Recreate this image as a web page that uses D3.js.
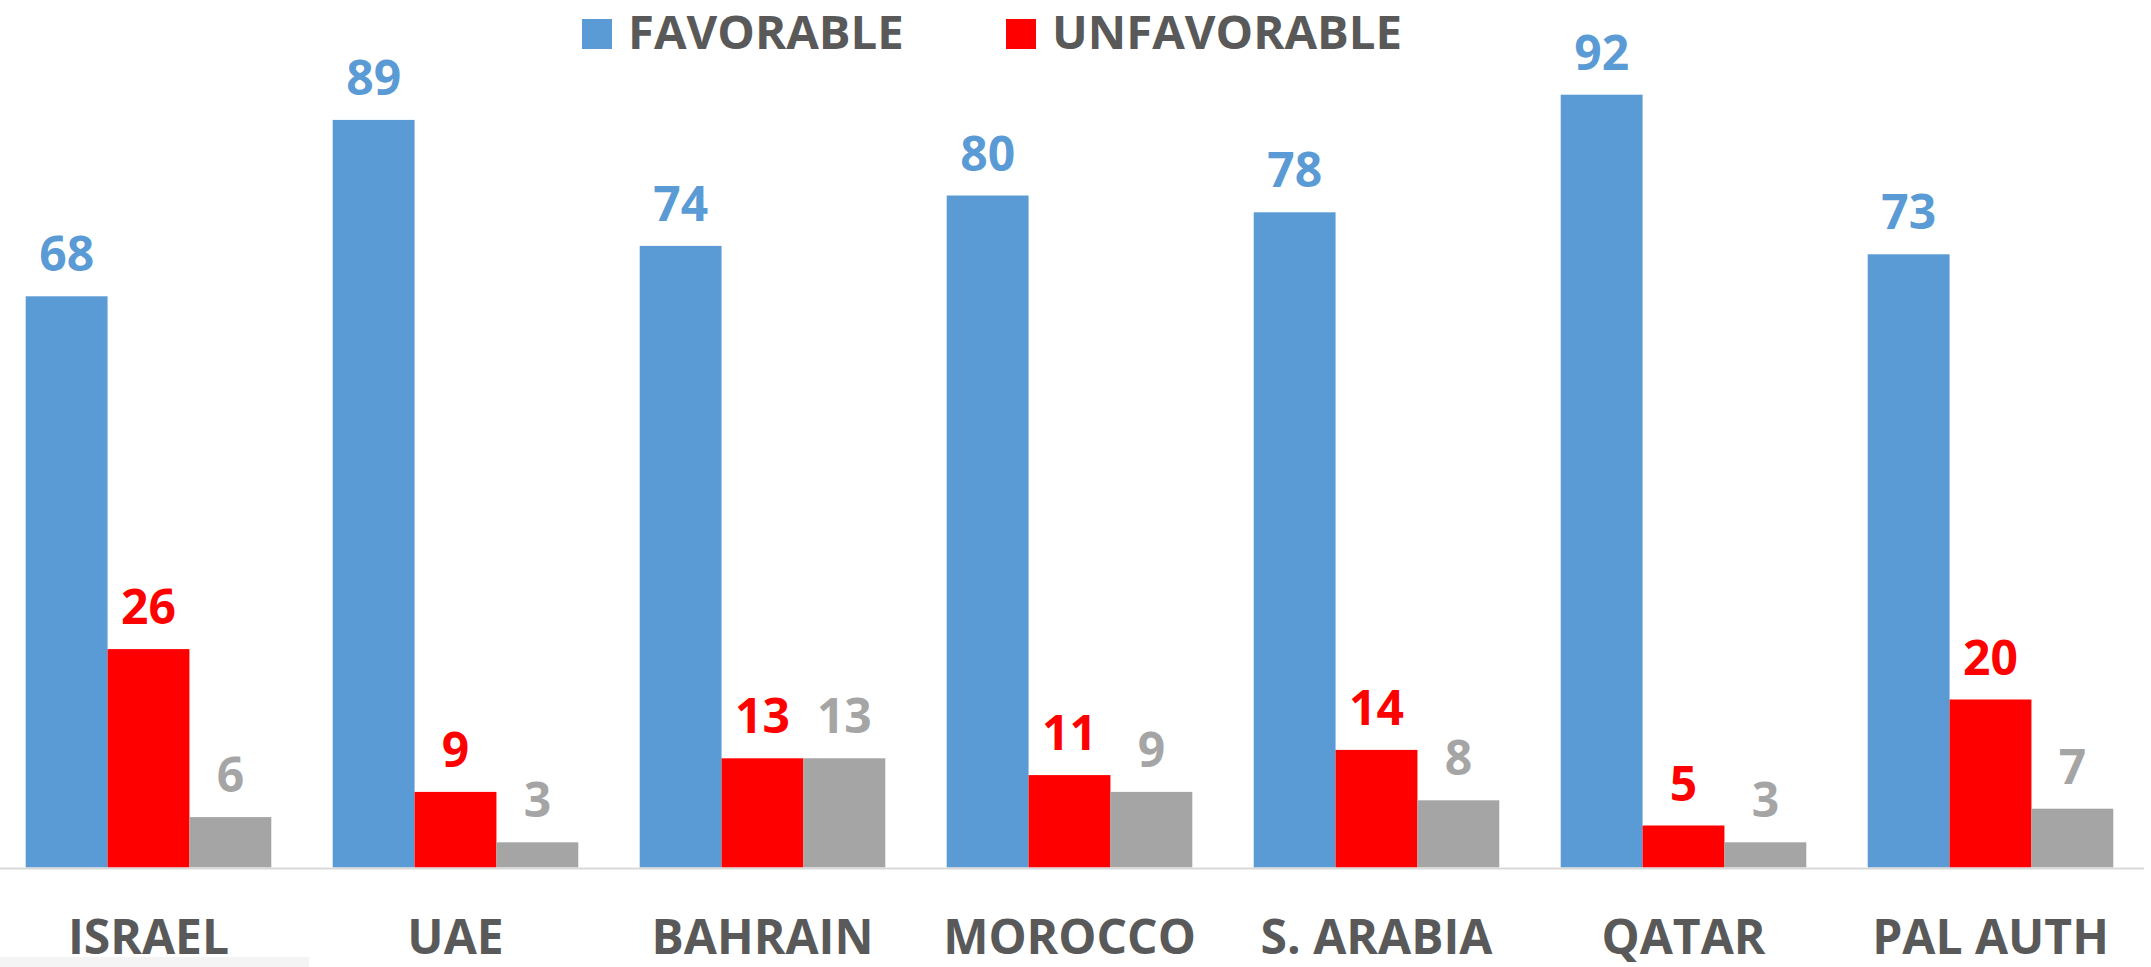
<!DOCTYPE html>
<html>
<head>
<meta charset="utf-8">
<script src="https://cdn.jsdelivr.net/npm/d3@7"></script>
<style>
  body { margin: 0; background: #fff; }
  svg { display: block; font-family: "Open Sans", sans-serif; font-weight: 700; }
</style>
</head>
<body>
<svg width="2151" height="967"></svg>
<script>
const categories = ["ISRAEL", "UAE", "BAHRAIN", "MOROCCO", "S. ARABIA", "QATAR", "PAL AUTH"];
const favorable = [68, 89, 74, 80, 78, 92, 73];
const unfavorable = [26, 9, 13, 11, 14, 5, 20];
const dontKnow = [6, 3, 13, 9, 8, 3, 7];
const seriesNames = ["FAVORABLE", "UNFAVORABLE", "DK"];
const seriesColors = ["#5b9bd5", "#ff0000", "#a5a5a5"];
const legendNames = ["FAVORABLE", "UNFAVORABLE"];

const svg = d3.select("svg");
const width = +svg.attr("width");
const height = +svg.attr("height");

const seriesValues = [favorable, unfavorable, dontKnow];
const data = categories.map((c, i) => ({
  cat: c,
  values: seriesValues.map((vals, s) => ({ key: seriesNames[s], value: vals[i], color: seriesColors[s] }))
}));

const xScale = d3.scaleBand()
  .domain(categories)
  .range([-5, 2144])
  .paddingInner(0.2)
  .paddingOuter(0.1);

// bars fill 80% of each band with no gap between them
const xInner = d3.scaleBand()
  .domain(seriesNames)
  .range([0, xScale.bandwidth()]);

const yScale = d3.scaleLinear()
  .domain([0, 100])
  .range([867.5, 27.5]);

const groups = svg.selectAll("g.cat")
  .data(data)
  .enter()
  .append("g")
  .attr("class", "cat")
  .attr("transform", (d) => `translate(${xScale(d.cat)},0)`);

groups.selectAll("rect")
  .data((d) => d.values)
  .enter()
  .append("rect")
  .attr("x", (d) => xInner(d.key))
  .attr("y", (d) => yScale(d.value))
  .attr("width", xInner.bandwidth())
  .attr("height", (d) => yScale(0) - yScale(d.value))
  .attr("fill", (d) => d.color);

groups.selectAll("text")
  .data((d) => d.values)
  .enter()
  .append("text")
  .attr("x", (d) => xInner(d.key) + xInner.bandwidth() / 2)
  .attr("y", (d) => yScale(d.value) - 25)
  .attr("text-anchor", "middle")
  .attr("font-size", 48)
  .attr("fill", (d) => d.color)
  .text((d) => d.value);

// axis baseline
svg.append("line")
  .attr("x1", 0)
  .attr("x2", 2144)
  .attr("y1", yScale(0) + 1)
  .attr("y2", yScale(0) + 1)
  .attr("stroke", "#d9d9d9")
  .attr("stroke-width", 2);

// category labels
const xAxis = d3.axisBottom(xScale).tickSize(0).tickPadding(0);
const xAxisG = svg.append("g").call(xAxis);
xAxisG.select(".domain").remove();
xAxisG.selectAll("text")
  .attr("y", 954)
  .attr("dy", null)
  .attr("font-family", "Open Sans, sans-serif")
  .attr("font-weight", 700)
  .attr("font-size", 48)
  .attr("fill", "#595959");

// legend
const legendX = [582, 1006];
const legend = svg.selectAll("g.legend")
  .data(legendNames)
  .enter()
  .append("g")
  .attr("class", "legend")
  .attr("transform", (d, i) => `translate(${legendX[i]},19)`);

legend.append("rect")
  .attr("width", 30)
  .attr("height", 30)
  .attr("fill", (d, i) => seriesColors[i]);

legend.append("text")
  .attr("x", 46)
  .attr("y", 29.5)
  .attr("font-size", 47.3)
  .attr("fill", "#595959")
  .text((d) => d);

// faint strip at bottom-left
svg.append("rect")
  .attr("x", 0)
  .attr("y", 957)
  .attr("width", 309)
  .attr("height", 10)
  .attr("fill", "#f4f4f4");
</script>
</body>
</html>
